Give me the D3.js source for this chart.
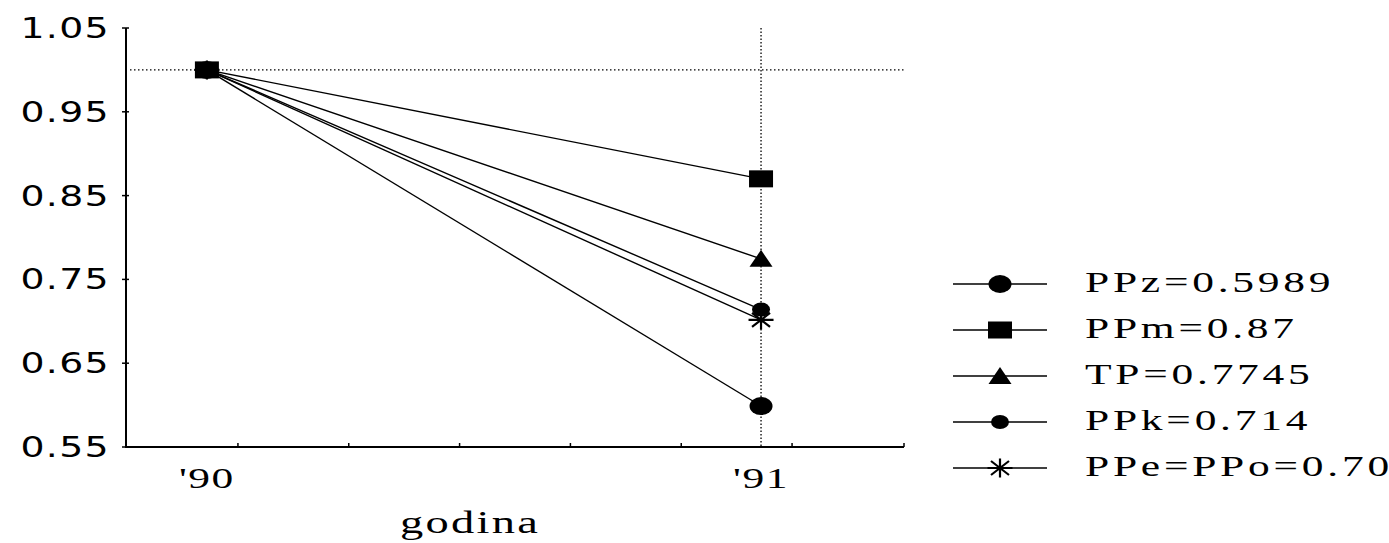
<!DOCTYPE html>
<html>
<head>
<meta charset="utf-8">
<script src="https://cdn.jsdelivr.net/npm/d3@7"></script>
<style>
  body { margin: 0; background: #fff; }
  svg { display: block; }
  .serif { font-family: "Liberation Serif", "Times New Roman", "DejaVu Serif", serif; }
  .sans { font-family: "DejaVu Sans", Verdana, sans-serif; }
</style>
</head>
<body>
<svg id="chart" width="1389" height="543"></svg>
<script>
// data
const years = [1990, 1991];
const yearLabels = ["'90", "'91"];
const seriesNames = ["PPz", "PPm", "TP", "PPk", "PPe=PPo"];
const values90 = [1, 1, 1, 1, 1];
const values91 = [0.5989, 0.87, 0.7745, 0.714, 0.7016];
const symbols = ["circle", "square", "triangle", "dot", "asterisk"];
const yTicks = [0.55, 0.65, 0.75, 0.85, 0.95, 1.05];
const xMinorTicks = [1990.056, 1990.256, 1990.456, 1990.656, 1990.856, 1991.056];
const refValue = 1;
const xTitle = "godina";

const svg = d3.select('#chart');

const x = d3.scaleLinear().domain([1989.854, 1991.258]).range([126, 904]);
const y = d3.scaleLinear().domain([0.55, 1.05]).range([447, 28]);

// the picture is stretched sideways, so text is too
function stretchedText(g, txt, px, py, anchor, cls, size, spacing, sx) {
    return g.append('text')
        .attr('class', cls)
        .attr('transform', `translate(${px},${py}) scale(${sx},1)`)
        .attr('text-anchor', anchor)
        .style('font-size', size + 'px')
        .style('letter-spacing', spacing + 'px')
        .attr('fill', '#000')
        .text(txt);
}

// reference lines (dotted)
svg.append('line')
    .attr('x1', x.range()[0] + 4).attr('x2', x.range()[1])
    .attr('y1', y(refValue)).attr('y2', y(refValue))
    .attr('stroke', '#000').attr('stroke-width', 1.3)
    .attr('stroke-dasharray', '1.5,2.5');
svg.append('line')
    .attr('x1', x(years[1])).attr('x2', x(years[1]))
    .attr('y1', y.range()[1]).attr('y2', y.range()[0])
    .attr('stroke', '#000').attr('stroke-width', 1.3)
    .attr('stroke-dasharray', '1.5,2');

// axes
svg.append('line')
    .attr('x1', x.range()[0]).attr('x2', x.range()[0])
    .attr('y1', y.range()[1]).attr('y2', y.range()[0] + 1)
    .attr('stroke', '#000').attr('stroke-width', 2);
svg.append('line')
    .attr('x1', x.range()[0]).attr('x2', x.range()[1])
    .attr('y1', y.range()[0]).attr('y2', y.range()[0])
    .attr('stroke', '#000').attr('stroke-width', 2);

const yAx = svg.append('g');
yTicks.forEach(t => {
    yAx.append('line')
        .attr('x1', x.range()[0] - 4).attr('x2', x.range()[0] + 3)
        .attr('y1', y(t)).attr('y2', y(t))
        .attr('stroke', '#000').attr('stroke-width', 1.5);
    stretchedText(yAx, t.toFixed(2), 110, y(t) + 10, 'end', 'sans', 28, 1, 1.35);
});

const xAx = svg.append('g');
xMinorTicks.concat([x.domain()[1]]).forEach(t => {
    xAx.append('line')
        .attr('x1', x(t)).attr('x2', x(t))
        .attr('y1', y.range()[0]).attr('y2', y.range()[0] - 4)
        .attr('stroke', '#000').attr('stroke-width', 1.5);
});
years.forEach((yr, i) => {
    stretchedText(xAx, yearLabels[i], x(yr), 488, 'middle', 'serif', 29, 1, 1.5);
});
stretchedText(svg, xTitle, 470, 533, 'middle', 'serif', 31, 1.5, 1.5);

// markers
function drawMarker(g, type) {
    if (type === 'circle') {
        g.append('ellipse').attr('rx', 11.5).attr('ry', 9).attr('fill', '#000');
    } else if (type === 'square') {
        g.append('rect').attr('x', -12).attr('y', -8.5).attr('width', 24).attr('height', 17).attr('fill', '#000');
    } else if (type === 'triangle') {
        g.append('path').attr('d', 'M0,-9L11.5,8L-11.5,8Z').attr('fill', '#000');
    } else if (type === 'dot') {
        g.append('ellipse').attr('rx', 9).attr('ry', 7).attr('fill', '#000');
    } else if (type === 'asterisk') {
        g.append('path')
            .attr('d', 'M0,-9.5V9.5M-12.5,0H12.5M-9,-7L9,7M9,-7L-9,7')
            .attr('stroke', '#000').attr('stroke-width', 2.2).attr('fill', 'none');
    }
}

const plot = svg.append('g');
seriesNames.forEach((name, i) => {
    const pts = [[years[0], values90[i]], [years[1], values91[i]]];
    plot.append('path')
        .attr('d', d3.line().x(d => x(d[0])).y(d => y(d[1]))(pts))
        .attr('stroke', '#000').attr('stroke-width', 1.4).attr('fill', 'none');
});
seriesNames.forEach((name, i) => {
    [[years[0], values90[i]], [years[1], values91[i]]].forEach(p => {
        drawMarker(plot.append('g').attr('transform', `translate(${x(p[0])},${y(p[1])})`), symbols[i]);
    });
});

// legend
const legend = svg.append('g');
seriesNames.forEach((name, i) => {
    const ly = 284 + i * 46;
    legend.append('line')
        .attr('x1', 953).attr('x2', 1047).attr('y1', ly).attr('y2', ly)
        .attr('stroke', '#000').attr('stroke-width', 1.6);
    drawMarker(legend.append('g').attr('transform', `translate(1000,${ly})`), symbols[i]);
    stretchedText(legend, name + '=' + values91[i], 1085, ly + 8, 'start', 'serif', 29, 2.5, 1.5);
});
</script>
</body>
</html>
